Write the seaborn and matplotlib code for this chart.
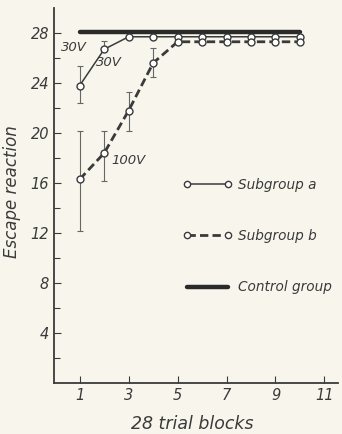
import numpy as np
import pandas as pd
import matplotlib
matplotlib.use("Agg")
import matplotlib.pyplot as plt
from matplotlib.lines import Line2D
import seaborn as sns

# data
blocks = [1, 2, 3, 4, 5, 6, 7, 8, 9, 10]
sub_a = [23.8, 26.7, 27.7, 27.7, 27.7, 27.7, 27.7, 27.7, 27.7, 27.7]
sub_b = [16.3, 18.4, 21.8, 25.6, 27.3, 27.3, 27.3, 27.3, 27.3, 27.3]
control = [28.1] * 10
err_a_lo = [22.4, 26.7, 27.7, 27.7, 27.7, 27.7, 27.7, 27.7, 27.7, 27.7]
err_a_hi = [25.4, 27.4, 27.7, 27.7, 27.7, 27.7, 27.7, 27.7, 27.7, 27.7]
err_b_lo = [12.2, 16.2, 20.2, 24.5, 27.3, 27.3, 27.3, 27.3, 27.3, 27.3]
err_b_hi = [20.2, 20.2, 23.3, 26.8, 27.3, 27.3, 27.3, 27.3, 27.3, 27.3]

df = pd.DataFrame({"block": blocks, "a": sub_a, "b": sub_b, "control": control})

sns.set_style("ticks")
plt.rcParams["font.family"] = ["DejaVu Sans"]
plt.rcParams["font.style"] = "italic"

ink = "#3a3a3a"
bg = "#f8f6ec"

fig = plt.figure(figsize=(3.42, 4.34), dpi=100, facecolor=bg)
ax = fig.add_axes([0.158, 0.1175, 0.83, 0.864])
ax.set_facecolor(bg)

# control group
sns.lineplot(data=df, x="block", y="control", ax=ax, color="#2a2a2a", lw=3.2)

# error bars
ax.errorbar(df["block"][:4], df["a"][:4],
            yerr=[np.array(sub_a[:4]) - np.array(err_a_lo[:4]),
                  np.array(err_a_hi[:4]) - np.array(sub_a[:4])],
            fmt="none", ecolor="#666666", elinewidth=0.8, capsize=2.5, capthick=0.8)
ax.errorbar(df["block"][:4], df["b"][:4],
            yerr=[np.array(sub_b[:4]) - np.array(err_b_lo[:4]),
                  np.array(err_b_hi[:4]) - np.array(sub_b[:4])],
            fmt="none", ecolor="#666666", elinewidth=0.8, capsize=2.5, capthick=0.8)

# subgroups
sns.lineplot(data=df, x="block", y="a", ax=ax, color=ink, lw=1.1,
             marker="o", markersize=5, markerfacecolor="white",
             markeredgecolor=ink, markeredgewidth=1.0)
sns.lineplot(data=df, x="block", y="b", ax=ax, color=ink, lw=2.0,
             linestyle=(0, (3, 1.5)), marker="o", markersize=5,
             markerfacecolor="white", markeredgecolor=ink, markeredgewidth=1.0)

ax.text(0.25, 26.6, "30V", fontsize=9.5, color=ink)
ax.text(1.65, 25.4, "30V", fontsize=9.5, color=ink)
ax.text(2.3, 17.5, "100V", fontsize=9.5, color=ink)

ax.set_xlim(-0.05, 11.55)
ax.set_ylim(0, 30)
ax.set_xticks([1, 3, 5, 7, 9, 11])
ax.set_yticks([4, 8, 12, 16, 20, 24, 28])
ax.set_yticks([2, 6, 10, 14, 18, 22, 26], minor=True)
ax.tick_params(direction="in", length=5, width=0.8, colors=ink, labelsize=10.5)
ax.tick_params(which="minor", direction="in", length=4, width=0.8, colors=ink)
for s in ["top", "right"]:
    ax.spines[s].set_visible(False)
for s in ["left", "bottom"]:
    ax.spines[s].set_color(ink)
    ax.spines[s].set_linewidth(1.3)

ax.set_xlabel("28 trial blocks", fontsize=12.5, color=ink)
ax.set_ylabel("Escape reaction", fontsize=12, color=ink)
ax.xaxis.set_label_coords(0.486, -0.085)
ax.yaxis.set_label_coords(-0.118, 0.51)

handles = [
    Line2D([], [], color=ink, lw=1.1, marker="o", markersize=4.5,
           markerfacecolor="white"),
    Line2D([], [], color=ink, lw=2.0, linestyle=(0, (3, 1.5)), marker="o",
           markersize=4.5, markerfacecolor="white"),
    Line2D([], [], color="#2a2a2a", lw=3.2),
]
leg = ax.legend(handles, ["Subgroup a", "Subgroup b", "Control group"],
                loc="upper left", bbox_to_anchor=(0.455, 0.548), frameon=False,
                handlelength=3.6, labelspacing=2.75, fontsize=9.8,
                handletextpad=0.4, numpoints=2, borderpad=0, borderaxespad=0)
for t in leg.get_texts():
    t.set_color(ink)

fig.savefig("out.png", dpi=100, facecolor=bg)
